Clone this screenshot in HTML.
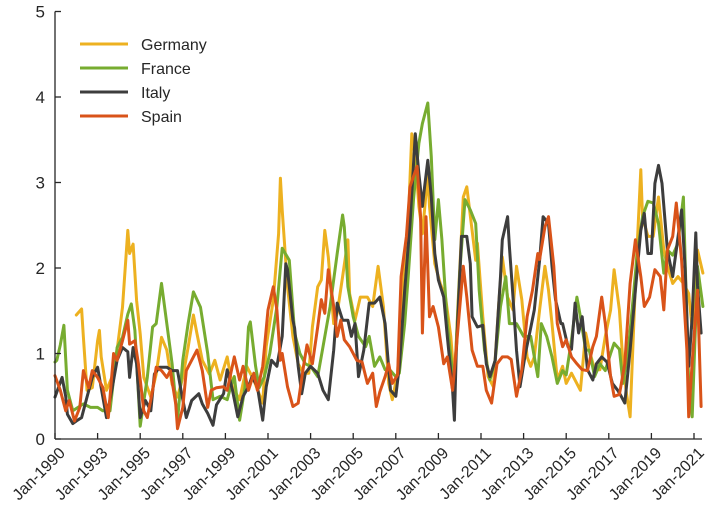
<!DOCTYPE html>
<html><head><meta charset="utf-8"><style>
html,body{margin:0;padding:0;background:#fff;}
svg{display:block;font-family:"Liberation Sans",Arial,sans-serif;}
</style></head><body>
<svg id="chart" width="710" height="525" viewBox="0 0 710 525"></svg>
<script>
const tickMonths=[0,24,48,72,96,120,144,168,192,216,240,264,288,312,336,360];
const tickLabels=["Jan-1990","Jan-1993","Jan-1995","Jan-1997","Jan-1999","Jan-2001","Jan-2003","Jan-2005","Jan-2007","Jan-2009","Jan-2011","Jan-2013","Jan-2015","Jan-2017","Jan-2019","Jan-2021"];
const yTicks=[0,1,2,3,4,5];
const seriesNames=["Germany","France","Italy","Spain"];
const germanyMonths=[12,15,16,18,21,24,25,26,29,32,35,38,41,42,44,46,48,50,54,57,60,63,66,69,72,75,78,80,83,87,90,93,97,100,104,108,112,117,119,123,126,127,128,131,134,137,140,143,145,148,150,152,154,157,159,162,165,166,169,172,176,179,182,185,188,190,193,196,199,201,203,205,207,210,211,214,217,220,223,225,227,230,232,235,237,238,241,244,247,250,252,255,258,260,263,266,268,270,273,276,278,280,283,286,288,291,296,299,301,304,307,310,313,315,318,320,322,324,327,330,331,334,337,340,343,345,348,351,354,357,359,362,365];
const germanyValues=[1.45,1.52,1.19,0.57,0.6,1.15,1.27,0.96,0.57,0.72,1.04,1.54,2.44,2.17,2.28,1.62,1.23,0.72,0.49,0.76,1.19,1.04,0.64,0.49,0.72,1.07,1.45,1.23,0.92,0.76,0.92,0.69,0.96,0.61,0.46,0.85,0.69,0.42,1.08,1.63,2.4,3.05,2.68,1.78,1.2,0.88,0.77,0.77,1.31,1.78,1.86,2.44,2.13,1.35,1.47,1.9,2.33,1.7,1.39,1.66,1.66,1.55,2.02,1.55,0.65,0.46,0.77,1.9,2.52,3.57,3.3,2.72,2.4,3.1,2.72,2.05,1.82,1.66,1.2,0.65,1.55,2.83,2.95,2.44,2.09,2.29,1.43,0.73,0.61,1.59,2.13,1.66,1.51,2.02,1.63,0.96,0.85,0.96,1.51,2.02,1.74,1.35,0.69,0.85,0.65,0.77,0.57,1.24,1.04,0.81,0.81,1.2,1.51,1.98,1.51,0.88,0.53,0.26,1.82,3.15,2.6,2.37,2.37,2.83,2.21,2.02,1.82,1.9,1.82,1.7,1.3,2.21,1.94];
const franceMonths=[0,1,3,5,7,10,16,20,24,27,31,35,38,41,43,45,48,52,55,57,60,63,66,69,72,75,78,82,86,89,93,97,99,101,104,107,109,110,113,115,118,121,125,128,132,135,138,141,144,148,151,155,159,162,163,165,168,171,175,177,180,183,186,189,192,194,197,199,202,205,207,210,212,214,216,218,221,224,225,228,231,234,237,239,242,245,248,251,254,256,260,264,268,272,274,277,280,283,286,288,291,294,296,299,301,304,307,310,313,315,318,320,323,326,328,331,334,337,340,343,345,348,351,354,355,357,359,361,362,365];
const franceValues=[0.9,0.92,1.1,1.33,0.57,0.33,0.41,0.37,0.37,0.33,0.33,1.07,1.19,1.46,1.58,1.27,0.15,0.72,1.31,1.35,1.82,1.35,0.88,0.21,0.92,1.35,1.72,1.54,1.0,0.46,0.5,0.46,0.61,0.73,0.22,0.6,1.31,1.37,0.85,0.6,0.73,1.0,1.55,2.23,2.09,1.24,1.0,0.88,0.85,0.73,1.08,1.55,2.17,2.62,2.48,1.78,1.43,1.2,1.08,1.2,0.85,0.96,0.81,0.8,0.73,0.77,1.35,1.9,2.8,3.46,3.69,3.93,3.3,2.33,2.8,2.33,1.35,0.77,0.65,1.94,2.8,2.68,2.52,1.74,1.04,0.69,0.92,1.55,1.9,1.35,1.35,1.2,1.2,0.73,1.35,1.2,0.96,0.65,0.8,0.75,1.16,1.66,1.43,1.04,1.04,0.73,0.88,0.8,1.0,1.12,1.05,0.65,1.04,1.7,2.17,2.6,2.78,2.76,2.52,1.94,2.21,2.15,2.29,2.83,2.1,0.65,0.26,1.43,2.02,1.55];
const italyMonths=[0,4,6,7,10,12,15,18,21,24,26,29,32,35,38,41,42,44,46,48,51,54,56,59,63,66,69,71,74,77,81,83,86,89,91,95,97,100,103,106,109,111,114,117,119,122,125,128,130,131,134,135,137,139,141,144,148,151,154,157,159,162,165,167,169,171,174,177,180,183,186,189,192,194,197,200,203,205,207,208,210,212,214,216,219,221,224,225,226,229,232,234,235,238,241,243,245,248,251,252,255,256,258,260,262,265,268,270,273,275,278,280,282,285,286,289,291,293,295,297,300,303,305,308,311,314,317,319,321,324,327,330,332,334,336,338,340,342,345,348,350,353,355,357,359,361,362,364];
const italyValues=[0.49,0.72,0.5,0.29,0.18,0.21,0.25,0.49,0.72,0.84,0.6,0.25,0.57,0.92,1.07,1.02,0.72,1.07,0.88,0.25,0.45,0.33,0.76,0.84,0.84,0.8,0.8,0.57,0.25,0.45,0.53,0.41,0.3,0.16,0.4,0.53,0.81,0.57,0.26,0.5,0.61,0.73,0.61,0.22,0.61,0.92,0.85,1.2,2.05,1.98,1.39,1.3,0.85,0.53,0.77,0.85,0.77,0.57,0.46,1.04,1.59,1.39,1.39,1.2,1.35,0.73,1.04,1.59,1.59,1.66,1.35,0.57,0.5,0.85,1.74,2.52,3.57,3.1,2.72,2.91,3.26,2.83,2.17,1.86,1.66,1.2,0.57,0.22,0.96,2.37,2.37,2.05,1.43,1.31,1.33,0.88,0.73,0.92,1.9,2.33,2.6,2.25,1.66,1.04,0.61,1.0,1.3,1.51,2.09,2.6,2.52,2.02,1.63,1.35,1.35,1.08,1.05,1.59,1.24,1.43,0.81,0.69,0.88,0.96,0.9,0.65,0.57,0.5,0.42,1.04,1.74,2.44,2.64,2.17,2.17,2.99,3.2,2.99,2.21,1.9,2.21,2.68,2.0,0.85,1.43,2.41,1.8,1.24];
const spainMonths=[0,3,6,8,11,14,16,19,21,24,27,30,33,35,38,41,42,45,47,50,52,55,57,60,63,65,68,69,72,74,78,80,83,86,88,91,95,97,101,104,106,109,112,114,117,120,123,125,127,128,131,134,137,140,142,145,148,150,152,154,157,159,161,163,166,170,173,176,179,181,183,186,188,190,193,195,198,200,202,204,206,207,209,211,213,216,219,221,224,226,230,232,235,238,241,243,246,249,252,255,257,260,263,266,269,272,273,276,278,281,283,286,288,291,294,297,300,303,305,308,310,313,315,318,321,324,327,330,332,335,338,341,343,345,348,350,353,356,357,359,362,364];
const spainValues=[0.74,0.57,0.33,0.45,0.21,0.37,0.8,0.6,0.8,0.72,0.6,0.25,1.0,0.92,1.15,1.39,1.11,1.15,0.88,0.33,0.25,0.57,0.84,0.8,0.72,0.8,0.41,0.12,0.37,0.8,0.96,1.04,0.8,0.37,0.57,0.6,0.61,0.57,0.96,0.69,0.85,0.57,0.77,0.57,0.85,1.51,1.78,1.51,0.92,1.0,0.61,0.38,0.42,0.85,1.1,0.88,1.31,1.63,1.47,1.98,1.55,1.2,1.39,1.16,1.08,0.92,0.9,0.65,0.77,0.38,0.55,0.73,0.88,0.65,0.75,1.9,2.37,2.95,3.07,3.19,2.6,1.24,2.6,1.43,1.55,1.31,0.88,0.96,0.57,1.04,2.02,1.66,1.04,0.85,0.85,0.57,0.42,0.88,0.96,0.96,0.93,0.5,0.81,1.43,1.74,2.17,2.1,2.48,2.6,2.02,1.35,1.08,1.16,0.96,0.88,0.81,0.8,1.08,1.2,1.66,1.35,0.73,0.5,0.52,0.88,1.82,2.33,1.9,1.55,1.66,1.98,1.9,1.51,2.21,2.37,2.76,2.09,1.04,0.26,0.9,1.74,0.38];

const NS="http://www.w3.org/2000/svg";
const svg=document.getElementById('chart');
const X0=55,XSTEP=1.775,Y0=439,YUNIT=85.5;
function xs(m){return X0+m*XSTEP;}
function ys(v){return Y0-v*YUNIT;}
function mk(tag,attrs,parent){const e=document.createElementNS(NS,tag);for(const k in attrs)e.setAttribute(k,attrs[k]);(parent||svg).appendChild(e);return e;}

const series=[
 {months:germanyMonths,values:germanyValues,color:"#EDB120"},
 {months:franceMonths,values:franceValues,color:"#77AC30"},
 {months:italyMonths,values:italyValues,color:"#3d3d3d"},
 {months:spainMonths,values:spainValues,color:"#D95319"}
];
const plot=mk('g',{});


series.forEach((s,i)=>{
  const d=s.months.map((m,j)=>(j?'L':'M')+xs(m).toFixed(1)+' '+ys(s.values[j]).toFixed(1)).join(' ');
  const p=mk('path',{d:d,fill:'none',stroke:s.color,'stroke-width':3,'stroke-linejoin':'round','stroke-linecap':'round'},plot);
  
  
});

const ax=mk('g',{stroke:'#262626','stroke-width':1.3,fill:'none'});


const yl=mk('line',{x1:X0,y1:ys(5),x2:X0,y2:Y0},ax);


const xl=mk('line',{x1:X0,y1:Y0,x2:702,y2:Y0},ax);


yTicks.forEach(v=>{
  const t=mk('line',{x1:X0,y1:ys(v),x2:X0+6,y2:ys(v)},ax);
  
  
  const l=mk('text',{x:X0-10,y:ys(v)+6,'text-anchor':'end','font-size':17,fill:'#262626'});
  l.textContent=v;
  
  
});
tickMonths.forEach((m,i)=>{
  const x=xs(m);
  const t=mk('line',{x1:x,y1:Y0,x2:x,y2:Y0-6},ax);
  
  
  const lx=x+11, ly=Y0+15;
  const l=mk('text',{x:lx,y:ly,'text-anchor':'end','font-size':16,fill:'#262626',transform:`rotate(-45 ${lx} ${ly})`});
  l.textContent=tickLabels[i];
  
  
});

const lg=mk('g',{});


series.forEach((s,i)=>{
  const y=44+i*24;
  const g=mk('g',{},lg);
  
  
  mk('line',{x1:80,y1:y,x2:128,y2:y,stroke:s.color,'stroke-width':3},g);
  const t=mk('text',{x:141,y:y+6,'font-size':16,fill:'#262626'},g);
  t.textContent=seriesNames[i];
});
</script>
</body></html>
